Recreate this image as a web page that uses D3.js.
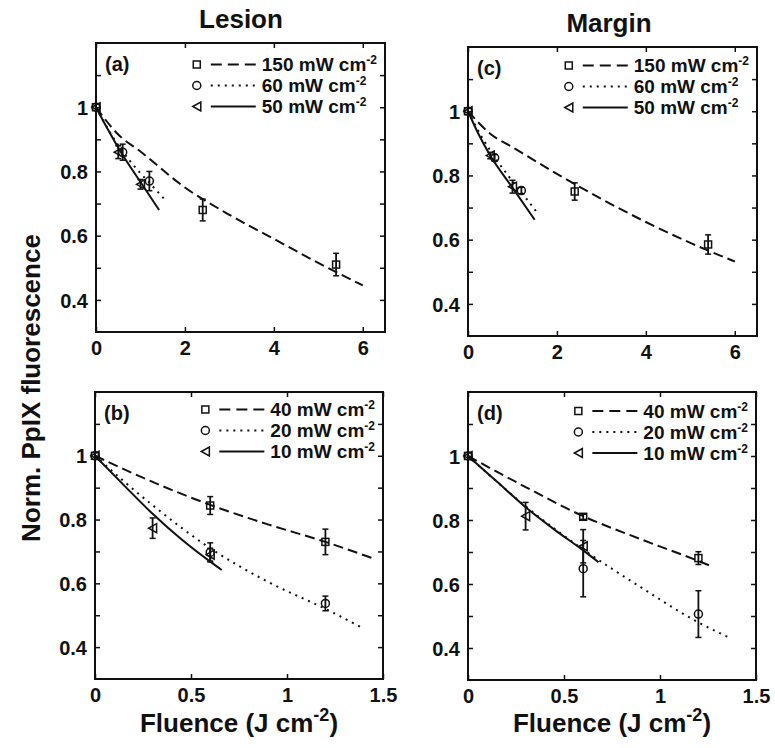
<!DOCTYPE html>
<html>
<head>
<meta charset="utf-8">
<script src="https://cdn.jsdelivr.net/npm/d3@7"></script>
<style>
body{margin:0;background:#fff;}
text{font-family:"Liberation Sans",Arial,Helvetica,sans-serif;font-weight:bold;fill:#111;}
</style>
</head>
<body>
<svg id="chart" width="775" height="748"></svg>
<script>
// tick values
var fluenceTicksLesion = [0, 2, 4, 6];
var fluenceTicksLow = [0, 0.5, 1, 1.5];
var normTicks = [0.4, 0.5, 0.6, 0.7, 0.8, 0.9, 1.0, 1.1];
var normTickLabels = [0.4, 0.6, 0.8, 1];

// legend names (superscript "-2" added when drawn)
var namesHigh = ["150 mW cm", "60 mW cm", "50 mW cm"];
var namesLow = ["40 mW cm", "20 mW cm", "10 mW cm"];

// measured points [fluence, norm. fluorescence, error]
var lesion150 = [[0, 1, 0], [2.4, 0.68, 0.034], [5.4, 0.51, 0.035]];
var lesion60 = [[0, 1, 0], [0.6, 0.86, 0.025], [1.2, 0.77, 0.03]];
var lesion50 = [[0, 1, 0], [0.5, 0.86, 0.02], [1.0, 0.76, 0.015]];
var margin150 = [[0, 1, 0], [2.4, 0.75, 0.027], [5.4, 0.585, 0.03]];
var margin60 = [[0, 1, 0], [0.6, 0.855, 0.01], [1.2, 0.753, 0.01]];
var margin50 = [[0, 1, 0], [0.5, 0.862, 0.01], [1.0, 0.765, 0.02]];
var lesion40 = [[0, 1, 0], [0.6, 0.844, 0.028], [1.2, 0.73, 0.04]];
var lesion20 = [[0, 1, 0], [0.6, 0.697, 0.03], [1.2, 0.537, 0.023]];
var lesion10 = [[0, 1, 0], [0.3, 0.773, 0.032], [0.6, 0.69, 0.02]];
var margin40 = [[0, 1, 0], [0.6, 0.81, 0.008], [1.2, 0.681, 0.02]];
var margin20 = [[0, 1, 0], [0.6, 0.648, 0.088], [1.2, 0.506, 0.073]];
var margin10 = [[0, 1, 0], [0.3, 0.812, 0.043], [0.6, 0.718, 0.052]];

// fitted curves [fluence, norm. fluorescence]
var lesion150Fit = [[0, 1], [0.5, 0.915], [1, 0.862], [2, 0.75], [3, 0.665], [4, 0.59], [5, 0.515], [6, 0.445]];
var lesion60Fit = [[0, 1], [0.3, 0.925], [0.6, 0.862], [0.9, 0.81], [1.2, 0.765], [1.55, 0.712]];
var lesion50Fit = [[0, 1], [0.25, 0.935], [0.5, 0.874], [1, 0.767], [1.42, 0.68]];
var margin150Fit = [[0, 1], [0.5, 0.93], [1, 0.888], [2, 0.805], [3, 0.727], [4, 0.655], [5, 0.59], [6, 0.532]];
var margin60Fit = [[0, 1], [0.3, 0.922], [0.6, 0.857], [0.9, 0.8], [1.2, 0.748], [1.55, 0.685]];
var margin50Fit = [[0, 1], [0.25, 0.925], [0.5, 0.862], [1, 0.762], [1.5, 0.662]];
var lesion40Fit = [[0, 1], [0.3, 0.918], [0.6, 0.846], [0.9, 0.785], [1.2, 0.73], [1.44, 0.68]];
var lesion20Fit = [[0, 1], [0.15, 0.92], [0.3, 0.845], [0.6, 0.71], [0.9, 0.605], [1.2, 0.52], [1.4, 0.458]];
var lesion10Fit = [[0, 1], [0.15, 0.908], [0.3, 0.818], [0.45, 0.738], [0.6, 0.668], [0.66, 0.642]];
var margin40Fit = [[0, 1], [0.3, 0.903], [0.6, 0.812], [0.9, 0.74], [1.2, 0.672], [1.27, 0.655]];
var margin20Fit = [[0, 1], [0.15, 0.92], [0.3, 0.843], [0.6, 0.708], [0.9, 0.59], [1.2, 0.48], [1.37, 0.43]];
var margin10Fit = [[0, 1], [0.15, 0.92], [0.3, 0.84], [0.45, 0.77], [0.6, 0.705], [0.68, 0.668]];

var lineStyles = ["10,5", "2,5", null];
var markerTypes = ["square", "circle", "triangle"];

var panels = [
    {label: "(a)", left: 96, top: 43, w: 289, h: 289, xMax: 6.5, xTicks: fluenceTicksLesion, legendTop: 21.5,
     names: namesHigh, points: [lesion150, lesion60, lesion50], fits: [lesion150Fit, lesion60Fit, lesion50Fit]},
    {label: "(c)", left: 468, top: 47, w: 289, h: 289, xMax: 6.5, xTicks: fluenceTicksLesion, legendTop: 18.5,
     names: namesHigh, points: [margin150, margin60, margin50], fits: [margin150Fit, margin60Fit, margin50Fit]},
    {label: "(b)", left: 95, top: 392, w: 288, h: 287, xMax: 1.5, xTicks: fluenceTicksLow, legendTop: 17.5,
     names: namesLow, points: [lesion40, lesion20, lesion10], fits: [lesion40Fit, lesion20Fit, lesion10Fit]},
    {label: "(d)", left: 468, top: 392, w: 288, h: 288, xMax: 1.5, xTicks: fluenceTicksLow, legendTop: 19,
     names: namesLow, points: [margin40, margin20, margin10], fits: [margin40Fit, margin20Fit, margin10Fit]}
];

var chart = d3.select("#chart");

function drawMarker(g, type, cx, cy){
    if(type == "square"){
        g.append("rect").attr("x", cx - 3.5).attr("y", cy - 3.5).attr("width", 7).attr("height", 7)
            .attr("fill", "none").attr("stroke", "#111").attr("stroke-width", 1.5);
    } else if(type == "circle"){
        g.append("circle").attr("cx", cx).attr("cy", cy).attr("r", 4)
            .attr("fill", "none").attr("stroke", "#111").attr("stroke-width", 1.5);
    } else {
        g.append("path").attr("d", "M" + (cx - 4) + "," + cy + "L" + (cx + 4) + "," + (cy - 4.5) + "L" + (cx + 4) + "," + (cy + 4.5) + "Z")
            .attr("fill", "none").attr("stroke", "#111").attr("stroke-width", 1.5);
    }
}

function addUnit(textSel, name, supSize, shift){
    textSel.append("tspan").text(name);
    textSel.append("tspan").attr("dy", -shift).attr("font-size", supSize).text("-2");
}

function drawPanel(p){
    var g = chart.append("g").attr("transform", "translate(" + p.left + "," + p.top + ")");
    var x = d3.scaleLinear().domain([0, p.xMax]).range([0, p.w]);
    var y = d3.scaleLinear().domain([0.3, 1.2]).range([p.h, 0]);
    var i, j;

    // axes with inward ticks on all sides
    var bottom = g.append("g").attr("transform", "translate(0," + p.h + ")")
        .call(d3.axisBottom(x).tickValues(p.xTicks).tickSizeInner(-5).tickSizeOuter(0).tickFormat(d3.format("")));
    var top = g.append("g")
        .call(d3.axisTop(x).tickValues(p.xTicks).tickSizeInner(-5).tickSizeOuter(0).tickFormat(""));
    var left = g.append("g")
        .call(d3.axisLeft(y).tickValues(normTicks).tickSizeInner(-5).tickSizeOuter(0)
            .tickFormat(function(d){ return normTickLabels.some(function(v){ return Math.abs(v - d) < 1e-9; }) ? d3.format("")(d) : ""; }));
    var right = g.append("g").attr("transform", "translate(" + p.w + ",0)")
        .call(d3.axisRight(y).tickValues(normTicks).tickSizeInner(-5).tickSizeOuter(0).tickFormat(""));
    [bottom, top, left, right].forEach(function(a){
        a.select(".domain").remove();
        a.selectAll("line").attr("stroke", "#111").attr("stroke-width", 1.5);
        a.selectAll("text").attr("font-size", 20).attr("font-family", null).attr("fill", "#111");
    });
    bottom.selectAll("text").attr("y", 23).attr("dy", null);
    left.selectAll("text").attr("x", -8).attr("dy", "0.36em");

    g.append("rect").attr("width", p.w).attr("height", p.h)
        .attr("fill", "none").attr("stroke", "#111").attr("stroke-width", 2);

    var line = d3.line().x(function(d){ return x(d[0]); }).y(function(d){ return y(d[1]); }).curve(d3.curveMonotoneX);

    for(i = 0; i < 3; i++){
        g.append("path").datum(p.fits[i]).attr("d", line)
            .attr("fill", "none").attr("stroke", "#111").attr("stroke-width", 2)
            .attr("stroke-dasharray", lineStyles[i]);
    }

    for(i = 0; i < 3; i++){
        for(j = 0; j < p.points[i].length; j++){
            var pt = p.points[i][j];
            var px = x(pt[0]);
            if(pt[2] > 0){
                var y1 = y(pt[1] - pt[2]), y2 = y(pt[1] + pt[2]);
                g.append("line").attr("x1", px).attr("x2", px).attr("y1", y1).attr("y2", y2)
                    .attr("stroke", "#111").attr("stroke-width", 1.8);
                g.append("line").attr("x1", px - 3).attr("x2", px + 3).attr("y1", y1).attr("y2", y1)
                    .attr("stroke", "#111").attr("stroke-width", 1.5);
                g.append("line").attr("x1", px - 3).attr("x2", px + 3).attr("y1", y2).attr("y2", y2)
                    .attr("stroke", "#111").attr("stroke-width", 1.5);
            }
            drawMarker(g, markerTypes[i], px, y(pt[1]));
        }
    }

    // panel label
    g.append("text").attr("x", 9).attr("y", 28).attr("font-size", 20).text(p.label);

    // legend, right aligned
    var leg = g.append("g");
    var texts = [];
    var maxW = 0;
    for(i = 0; i < 3; i++){
        var t = leg.append("text").attr("y", p.legendTop + i * 21).attr("dy", "0.36em").attr("font-size", 19);
        addUnit(t, p.names[i], 12, 7);
        texts.push(t);
        maxW = Math.max(maxW, t.node().getComputedTextLength());
    }
    var tx = p.w - 8 - maxW;
    for(i = 0; i < 3; i++){
        var ly = p.legendTop + i * 21;
        texts[i].attr("x", tx);
        leg.append("line").attr("x1", tx - 51).attr("x2", tx - 6).attr("y1", ly).attr("y2", ly)
            .attr("stroke", "#111").attr("stroke-width", 2).attr("stroke-dasharray", i == 0 ? "11,6" : lineStyles[i]);
        drawMarker(leg, markerTypes[i], tx - 65, ly);
    }
}

for(var k = 0; k < panels.length; k++){
    drawPanel(panels[k]);
}

// titles
chart.append("text").attr("x", 241).attr("y", 28).attr("text-anchor", "middle").attr("font-size", 26).text("Lesion");
chart.append("text").attr("x", 609).attr("y", 32).attr("text-anchor", "middle").attr("font-size", 26).text("Margin");

// y axis label
chart.append("text").attr("transform", "translate(40,388) rotate(-90)").attr("text-anchor", "middle")
    .attr("font-size", 26).text("Norm. PpIX fluorescence");

// x axis labels
[239, 612].forEach(function(cx){
    var t = chart.append("text").attr("x", cx).attr("y", 732).attr("text-anchor", "middle").attr("font-size", 26);
    t.append("tspan").text("Fluence (J cm");
    t.append("tspan").attr("dy", -11).attr("font-size", 18).text("-2");
    t.append("tspan").attr("dy", 11).text(")");
});
</script>
</body>
</html>
